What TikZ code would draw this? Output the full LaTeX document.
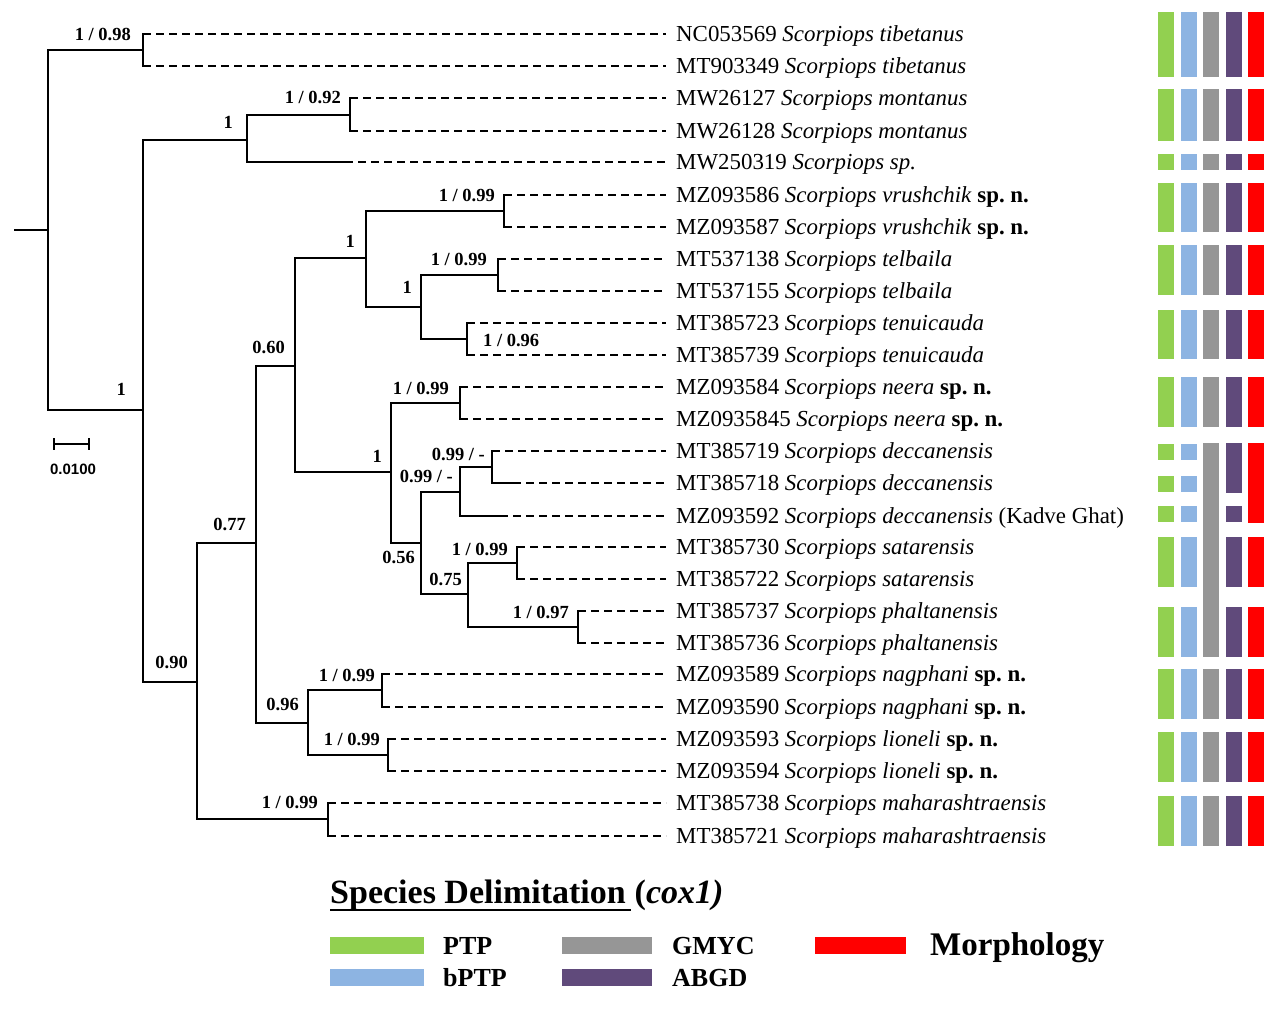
\documentclass[tikz,border=0pt]{standalone}
\usepackage{fontspec}
\setmainfont{Liberation Serif}
\newfontfamily\sbfont{Liberation Sans}
\definecolor{cG}{HTML}{92D050}
\definecolor{cB}{HTML}{8DB4E2}
\definecolor{cY}{HTML}{969696}
\definecolor{cP}{HTML}{604A7B}
\definecolor{cR}{HTML}{FF0000}
\newcommand\scorp[1]{\textit{Scorpiops #1}}
\newcommand\spnov{\textbf{sp.\ n.}}
\newcommand\mytip[4]{%
  \coordinate (s#1) at (#2,#3);
  \coordinate (e#1) at (666,#3);
  \node[taxon] (t#1) at (676,#3+7.6) {#4};
  \draw[tipline] (s#1) -- (e#1);}
\newcommand\mybar[4]{\fill[#1] (#2,#3) rectangle ++(16,#4-#3);}
\begin{document}
\begin{tikzpicture}[x=1pt,y=-1pt,
  branch/.style={line width=2.6pt,line cap=rect},
  tipline/.style={line width=2pt,dash pattern=on 8pt off 5pt},
  supp/.style={font=\bfseries\fontsize{18.5}{20}\selectfont,inner sep=0pt,anchor=base east},
  taxon/.style={font=\fontsize{22.9}{26}\selectfont,inner sep=0pt,anchor=base west},
  legtext/.style={font=\bfseries\fontsize{26}{28}\selectfont,inner sep=0pt,anchor=base west},
]
\useasboundingbox (0,0) rectangle (1280,1010);
% internal nodes
\coordinate (R0) at (15,230);
\coordinate (R) at (48,230);
\coordinate (A) at (143,50);
\coordinate (B) at (143,410);
\coordinate (C) at (247,140);
\coordinate (D) at (350,115);
\coordinate (N90) at (197,682);
\coordinate (N77) at (256,543);
\coordinate (N60) at (295,366);
\coordinate (N1a) at (366,258);
\coordinate (V) at (504,211);
\coordinate (N1b) at (421,307);
\coordinate (T) at (498,275);
\coordinate (Te) at (467,339);
\coordinate (N1c) at (391,472);
\coordinate (Ne) at (460,403);
\coordinate (N56) at (421,543);
\coordinate (D99o) at (460,492);
\coordinate (D99i) at (492,467);
\coordinate (N75) at (468,594);
\coordinate (Sa) at (517,563);
\coordinate (Ph) at (578,627);
\coordinate (N96) at (308,723);
\coordinate (Na) at (382,690);
\coordinate (Li) at (388,755);
\coordinate (Ma) at (328,819);
% tips
\mytip{1}{143}{34}{NC053569 \scorp{tibetanus}}
\mytip{2}{143}{66}{MT903349 \scorp{tibetanus}}
\mytip{3}{350}{98}{MW26127 \scorp{montanus}}
\mytip{4}{350}{131}{MW26128 \scorp{montanus}}
\mytip{5}{345}{162}{MW250319 \scorp{sp.}}
\mytip{6}{504}{195}{MZ093586 \scorp{vrushchik} \spnov}
\mytip{7}{504}{227}{MZ093587 \scorp{vrushchik} \spnov}
\mytip{8}{498}{259}{MT537138 \scorp{telbaila}}
\mytip{9}{498}{291}{MT537155 \scorp{telbaila}}
\mytip{10}{467}{323}{MT385723 \scorp{tenuicauda}}
\mytip{11}{467}{355}{MT385739 \scorp{tenuicauda}}
\mytip{12}{460}{387}{MZ093584 \scorp{neera} \spnov}
\mytip{13}{460}{419}{MZ0935845 \scorp{neera} \spnov}
\mytip{14}{492}{451}{MT385719 \scorp{deccanensis}}
\mytip{15}{513}{483}{MT385718 \scorp{deccanensis}}
\mytip{16}{500}{516}{MZ093592 \scorp{deccanensis} (Kadve Ghat)}
\mytip{17}{517}{547}{MT385730 \scorp{satarensis}}
\mytip{18}{517}{579}{MT385722 \scorp{satarensis}}
\mytip{19}{578}{611}{MT385737 \scorp{phaltanensis}}
\mytip{20}{578}{643}{MT385736 \scorp{phaltanensis}}
\mytip{21}{382}{674}{MZ093589 \scorp{nagphani} \spnov}
\mytip{22}{382}{707}{MZ093590 \scorp{nagphani} \spnov}
\mytip{23}{388}{739}{MZ093593 \scorp{lioneli} \spnov}
\mytip{24}{388}{771}{MZ093594 \scorp{lioneli} \spnov}
\mytip{25}{328}{803}{MT385738 \scorp{maharashtraensis}}
\mytip{26}{328}{836}{MT385721 \scorp{maharashtraensis}}
% branches
\draw[branch] (R0) -- (R);
\draw[branch] (R) |- (A); \draw[branch] (R) |- (B);
\draw[branch] (A) |- (s1); \draw[branch] (A) |- (s2);
\draw[branch] (B) |- (C); \draw[branch] (B) |- (N90);
\draw[branch] (C) |- (D); \draw[branch] (C) |- (s5);
\draw[branch] (D) |- (s3); \draw[branch] (D) |- (s4);
\draw[branch] (N90) |- (N77); \draw[branch] (N90) |- (Ma);
\draw[branch] (N77) |- (N60); \draw[branch] (N77) |- (N96);
\draw[branch] (N60) |- (N1a); \draw[branch] (N60) |- (N1c);
\draw[branch] (N1a) |- (V); \draw[branch] (N1a) |- (N1b);
\draw[branch] (V) |- (s6); \draw[branch] (V) |- (s7);
\draw[branch] (N1b) |- (T); \draw[branch] (N1b) |- (Te);
\draw[branch] (T) |- (s8); \draw[branch] (T) |- (s9);
\draw[branch] (Te) |- (s10); \draw[branch] (Te) |- (s11);
\draw[branch] (N1c) |- (Ne); \draw[branch] (N1c) |- (N56);
\draw[branch] (Ne) |- (s12); \draw[branch] (Ne) |- (s13);
\draw[branch] (N56) |- (D99o); \draw[branch] (N56) |- (N75);
\draw[branch] (D99o) |- (D99i); \draw[branch] (D99o) |- (s16);
\draw[branch] (D99i) |- (s14); \draw[branch] (D99i) |- (s15);
\draw[branch] (N75) |- (Sa); \draw[branch] (N75) |- (Ph);
\draw[branch] (Sa) |- (s17); \draw[branch] (Sa) |- (s18);
\draw[branch] (Ph) |- (s19); \draw[branch] (Ph) |- (s20);
\draw[branch] (N96) |- (Na); \draw[branch] (N96) |- (Li);
\draw[branch] (Na) |- (s21); \draw[branch] (Na) |- (s22);
\draw[branch] (Li) |- (s23); \draw[branch] (Li) |- (s24);
\draw[branch] (Ma) |- (s25); \draw[branch] (Ma) |- (s26);
% support values
\node[supp] (lA) at (131,40) {1 / 0.98};
\node[supp] (lD) at (341,103) {1 / 0.92};
\node[supp] (lC) at (233,128) {1};
\node[supp] (lB) at (126,395) {1};
\node[supp] (l60) at (285,353) {0.60};
\node[supp] (l1a) at (355,247) {1};
\node[supp] (lV) at (495,201) {1 / 0.99};
\node[supp] (l1b) at (412,293) {1};
\node[supp] (lT) at (487,265) {1 / 0.99};
\node[supp,anchor=base west] (lTe) at (483,346) {1 / 0.96};
\node[supp] (l1c) at (382,462) {1};
\node[supp] (lNe) at (449,394) {1 / 0.99};
\node[supp] (l99o) at (453,482) {0.99 / -};
\node[supp] (l99i) at (485,460) {0.99 / -};
\node[supp] (l56) at (415,563) {0.56};
\node[supp] (lSa) at (508,555) {1 / 0.99};
\node[supp] (l75) at (462,585) {0.75};
\node[supp] (lPh) at (569,618) {1 / 0.97};
\node[supp] (l77) at (246,530) {0.77};
\node[supp] (l90) at (188,668) {0.90};
\node[supp] (l96) at (299,710) {0.96};
\node[supp] (lNa) at (375,681) {1 / 0.99};
\node[supp] (lLi) at (380,745) {1 / 0.99};
\node[supp] (lMa) at (318,808) {1 / 0.99};
% scale bar
\coordinate (sb1) at (54,444);
\coordinate (sb2) at (89,444);
\draw[line width=2.4pt] (sb1) -- (sb2);
\draw[line width=2.4pt] ([yshift=6pt]sb1) -- ([yshift=-6pt]sb1);
\draw[line width=2.4pt] ([yshift=6pt]sb2) -- ([yshift=-6pt]sb2);
\node[font=\sbfont\bfseries\fontsize{15}{17}\selectfont,inner sep=0pt,anchor=base] (sbl) at (73,474) {0.0100};
% delimitation bars
\foreach \ya/\yb in {12/77,89/141,154/170,183/232,245/295,310/359,377/427,669/719,732/782,796/846}{
  \mybar{cG}{1158}{\ya}{\yb}
  \mybar{cB}{1181}{\ya}{\yb}
  \mybar{cY}{1203}{\ya}{\yb}
  \mybar{cP}{1226}{\ya}{\yb}
  \mybar{cR}{1248}{\ya}{\yb}
}
\foreach \ya/\yb in {537/587,607/657}{
  \mybar{cG}{1158}{\ya}{\yb}
  \mybar{cB}{1181}{\ya}{\yb}
  \mybar{cP}{1226}{\ya}{\yb}
  \mybar{cR}{1248}{\ya}{\yb}
}
\foreach \ya/\yb in {444/460,476/492,506/522}{
  \mybar{cG}{1158}{\ya}{\yb}
  \mybar{cB}{1181}{\ya}{\yb}
}
\mybar{cY}{1203}{443}{657}
\mybar{cP}{1226}{443}{493}
\mybar{cP}{1226}{506}{522}
\mybar{cR}{1248}{443}{523}
% legend
\node[inner sep=0pt,anchor=base west,font=\bfseries\fontsize{34}{36}\selectfont] (title1) at (330,903) {Species Delimitation};
\node[inner sep=0pt,anchor=base west,font=\bfseries\fontsize{34}{36}\selectfont] (title2) at ([xshift=8.5pt]title1.base east) {(\textit{cox1)}};
\draw[line width=2pt] ([yshift=-7pt]title1.base west) -- ([xshift=-3pt,yshift=-7pt]title2.base west);
\fill[cG] (330,937) rectangle (424,954);
\fill[cB] (330,969) rectangle (424,986);
\fill[cY] (562,937) rectangle (652,954);
\fill[cP] (562,969) rectangle (652,986);
\fill[cR] (815,937) rectangle (906,954);
\node[legtext] (gPTP) at (443,954) {PTP};
\node[legtext] (gbPTP) at (443,986) {bPTP};
\node[legtext] (gGMYC) at (672,954) {GMYC};
\node[legtext] (gABGD) at (672,986) {ABGD};
\node[legtext,font=\bfseries\fontsize{33}{35}\selectfont] (gMorph) at (930,955) {Morphology};
\end{tikzpicture}
\end{document}
